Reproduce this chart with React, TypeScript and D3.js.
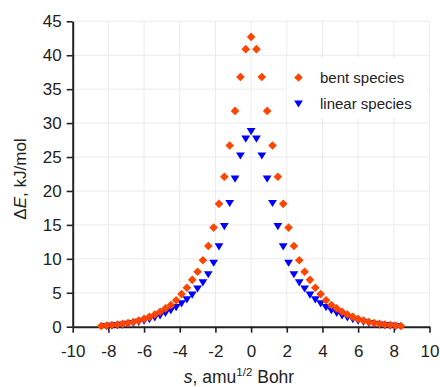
import { useEffect, useRef } from 'react';
import * as d3 from 'd3';

// reaction coordinate s (amu^1/2 Bohr) and energies (kJ/mol)
const sBent = [
  -8.4, -8.1, -7.8, -7.5, -7.2, -6.9, -6.6, -6.3, -6.0, -5.7, -5.4, -5.1, -4.8, -4.5, -4.2,
  -3.9, -3.6, -3.3, -3.0, -2.7, -2.4, -2.1, -1.8, -1.5, -1.2, -0.9, -0.6, -0.3, 0,
  0.3, 0.6, 0.9, 1.2, 1.5, 1.8, 2.1, 2.4, 2.7, 3.0, 3.3, 3.6, 3.9, 4.2, 4.5, 4.8,
  5.1, 5.4, 5.7, 6.0, 6.3, 6.6, 6.9, 7.2, 7.5, 7.8, 8.1, 8.4,
];
const eBent = [
  0.1, 0.17, 0.24, 0.32, 0.42, 0.55, 0.7, 0.9, 1.15, 1.45, 1.8, 2.2, 2.7, 3.2, 3.9,
  4.8, 5.75, 6.9, 8.1, 9.8, 11.9, 14.6, 18.1, 22.1, 26.7, 31.8, 36.8, 40.9, 42.7,
  40.9, 36.8, 31.8, 26.7, 22.1, 18.1, 14.6, 11.9, 9.8, 8.1, 6.9, 5.75, 4.8, 3.9, 3.2, 2.7,
  2.2, 1.8, 1.45, 1.15, 0.9, 0.7, 0.55, 0.42, 0.32, 0.24, 0.17, 0.1,
];
const sLinear = [
  -8.1, -7.8, -7.5, -7.2, -6.9, -6.6, -6.3, -6.0, -5.7, -5.4, -5.1, -4.8, -4.5, -4.2,
  -3.9, -3.6, -3.3, -3.0, -2.7, -2.4, -2.1, -1.8, -1.5, -1.2, -0.9, -0.6, -0.3, 0,
  0.3, 0.6, 0.9, 1.2, 1.5, 1.8, 2.1, 2.4, 2.7, 3.0, 3.3, 3.6, 3.9, 4.2, 4.5, 4.8,
  5.1, 5.4, 5.7, 6.0, 6.3, 6.6, 6.9, 7.2, 7.5, 7.8, 8.1,
];
const eLinear = [
  0.15, 0.22, 0.3, 0.38, 0.5, 0.62, 0.78, 0.95, 1.2, 1.45, 1.75, 2.1, 2.5, 2.95,
  3.5, 4.1, 4.8, 5.7, 6.6, 7.8, 9.5, 11.9, 14.9, 18.3, 21.9, 25.3, 27.8, 28.9,
  27.8, 25.3, 21.9, 18.3, 14.9, 11.9, 9.5, 7.8, 6.6, 5.7, 4.8, 4.1, 3.5, 2.95, 2.5, 2.1,
  1.75, 1.45, 1.2, 0.95, 0.78, 0.62, 0.5, 0.38, 0.3, 0.22, 0.15,
];

const xTicks = [-10, -8, -6, -4, -2, 0, 2, 4, 6, 8, 10];
const yTicks = [0, 5, 10, 15, 20, 25, 30, 35, 40, 45];
const seriesNames = ['bent species', 'linear species'];

const BENT = '#ff4500';
const LINEAR = '#0000ff';
const FONT = '"Liberation Sans", Arial, sans-serif';

const diamond = 'M0,-4.3L4.3,0L0,4.3L-4.3,0Z';
const triangle = 'M-4.4,-2.6L4.4,-2.6L0,4.6Z';

export default function App() {
  const ref = useRef<SVGSVGElement>(null);
  const width = 440;
  const height = 387;

  useEffect(() => {
    if (!ref.current) return;
    const svg = d3.select(ref.current);
    svg.selectAll('*').remove();

    const x = d3.scaleLinear().domain([-10, 10]).range([72.7, 429.5]);
    const y = d3.scaleLinear().domain([0, 45]).range([326.7, 21.3]);
    const fmt = (d: d3.NumberValue) => String(d);

    svg.append('rect').attr('width', width).attr('height', height).attr('fill', '#fff');

    // grid
    const grid = svg.append('g').attr('stroke', '#ebebeb').attr('stroke-width', 1);
    grid.selectAll('line.gx')
      .data(xTicks.filter((d) => d !== -10))
      .enter()
      .append('line')
      .attr('x1', (d) => x(d))
      .attr('x2', (d) => x(d))
      .attr('y1', y(45))
      .attr('y2', y(0));
    grid.selectAll('line.gy')
      .data(yTicks.filter((d) => d !== 0))
      .enter()
      .append('line')
      .attr('x1', x(-10))
      .attr('x2', x(10))
      .attr('y1', (d) => y(d))
      .attr('y2', (d) => y(d));

    // axes
    const xAxis = svg.append('g')
      .attr('transform', `translate(0,${y(0)})`)
      .call(d3.axisBottom(x).tickValues(xTicks).tickFormat(fmt).tickSize(6).tickSizeOuter(0));
    const yAxis = svg.append('g')
      .attr('transform', `translate(${x(-10)},0)`)
      .call(d3.axisLeft(y).tickValues(yTicks).tickFormat(fmt).tickSize(6).tickPadding(5).tickSizeOuter(0));
    [xAxis, yAxis].forEach((a) => {
      a.select('.domain').attr('stroke', '#222').attr('stroke-width', 2);
      a.selectAll('.tick line').attr('stroke', '#222').attr('stroke-width', 1.6);
      a.selectAll('.tick text')
        .attr('fill', '#222')
        .style('font-family', FONT)
        .style('font-size', '17px');
    });
    xAxis.selectAll('.tick text').attr('y', 30.5).attr('dy', 0);

    // points
    svg.append('g')
      .selectAll('path')
      .data(d3.zip(sLinear, eLinear))
      .enter()
      .append('path')
      .attr('d', triangle)
      .attr('transform', (d) => `translate(${x(d[0])},${y(d[1])})`)
      .attr('fill', LINEAR);
    svg.append('g')
      .selectAll('path')
      .data(d3.zip(sBent, eBent))
      .enter()
      .append('path')
      .attr('d', diamond)
      .attr('transform', (d) => `translate(${x(d[0])},${y(d[1])})`)
      .attr('fill', BENT);

    // legend
    const lg = svg.append('g');
    lg.append('rect')
      .attr('x', 287)
      .attr('y', 58)
      .attr('width', 141)
      .attr('height', 60)
      .attr('fill', '#fff');
    const entries = [
      { name: seriesNames[0], shape: diamond, color: BENT, cy: 77.5 },
      { name: seriesNames[1], shape: triangle, color: LINEAR, cy: 103 },
    ];
    entries.forEach((e) => {
      lg.append('path')
        .attr('d', e.shape)
        .attr('transform', `translate(298.5,${e.cy})`)
        .attr('fill', e.color);
      lg.append('text')
        .attr('x', 320)
        .attr('y', e.cy + 5.5)
        .attr('fill', '#222')
        .style('font-family', FONT)
        .style('font-size', '15px')
        .text(e.name);
    });

    // axis titles
    const xt = svg.append('text')
      .attr('x', 239)
      .attr('y', 383)
      .attr('text-anchor', 'middle')
      .attr('fill', '#222')
      .style('font-family', FONT)
      .style('font-size', '17.5px');
    xt.append('tspan').attr('font-style', 'italic').text('s');
    xt.append('tspan').text(', amu');
    xt.append('tspan').attr('dy', -7).style('font-size', '11.5px').text('1/2');
    xt.append('tspan').attr('dy', 7).text(' Bohr');

    const yt = svg.append('text')
      .attr('transform', 'translate(26,179) rotate(-90)')
      .attr('text-anchor', 'middle')
      .attr('fill', '#222')
      .style('font-family', FONT)
      .style('font-size', '17px');
    yt.append('tspan').text('Δ');
    yt.append('tspan').attr('font-style', 'italic').text('E');
    yt.append('tspan').text(', kJ/mol');
  }, []);

  return (
    <svg
      ref={ref}
      width={width}
      height={height}
      style={{ position: 'absolute', left: 0, top: 0 }}
    />
  );
}
